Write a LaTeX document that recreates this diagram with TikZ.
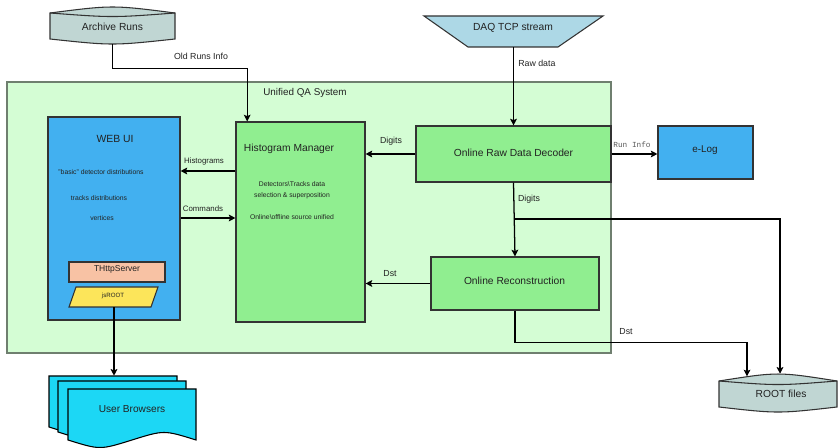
\documentclass[tikz,border=0pt]{standalone}
\usepackage{fontspec}
\setmainfont{Liberation Sans}
\setmonofont{Liberation Mono}
\usetikzlibrary{arrows.meta,fit,calc}
\definecolor{qafill}{HTML}{D4FDD4}
\definecolor{qaedge}{HTML}{6F7F6F}
\definecolor{gbox}{HTML}{90EE90}
\definecolor{bbox}{HTML}{42B0F0}
\definecolor{peach}{HTML}{F8C2A4}
\definecolor{yel}{HTML}{FCE55A}
\definecolor{cyanb}{HTML}{1CD7F5}
\definecolor{daqc}{HTML}{ADD8E6}
\definecolor{store}{HTML}{C0D6D3}
\definecolor{edge}{HTML}{333333}
\definecolor{txt}{HTML}{222222}
\begin{document}
\begin{tikzpicture}[x=0.75pt,y=-0.75pt,
  box/.style={draw=edge,line width=0.8pt,inner sep=0pt},
  ghost/.style={inner sep=0pt},
  conn/.style={draw=black,line width=0.95pt,-{Stealth[length=5pt,width=5pt,inset=1pt]}},
  line/.style={draw=black,line width=0.95pt},
  big/.style={font=\fontsize{7.7}{9}\selectfont,text=txt,inner sep=0pt},
  lab/.style={font=\fontsize{6.6}{8}\selectfont,text=txt,inner sep=0pt},
  labs/.style={font=\fontsize{5.9}{7}\selectfont,text=txt,inner sep=0pt},
  tiny/.style={font=\fontsize{5.1}{6.5}\selectfont,text=txt,inner sep=0pt},
  mono/.style={font=\ttfamily\fontsize{5.8}{7}\selectfont,text=black!65,inner sep=0pt},
]
\useasboundingbox (0,0) rectangle (838,448);

% Unified QA System frame
\node[fit={(7,82)(611,353)},box,draw=qaedge,fill=qafill,line width=0.9pt] (qa) {};
\node[big,font=\fontsize{7.4}{9}\selectfont] (qat) at (305,93) {Unified QA System};

% Archive Runs storage
\filldraw[fill=store,draw=edge,line width=0.8pt]
  (50,13) .. controls (112.5,5) .. (175,13) -- (175,39)
  .. controls (112.5,45.7) .. (50,39) -- cycle;
\draw[edge,line width=0.8pt] (50,13) .. controls (112.5,17.7) .. (175,13);
\node[fit={(50,7)(175,44)},ghost] (arch) {};
\node[big] (archt) at (112.5,27) {Archive Runs};

% DAQ TCP stream
\filldraw[fill=daqc,draw=edge,line width=0.8pt]
  (424,16) -- (603,16) -- (558,47) -- (468,47) -- cycle;
\node[fit={(424,16)(603,47)},ghost] (daq) {};
\node[big] (daqt) at (513,28) {DAQ TCP stream};

% WEB UI
\node[fit={(48,117)(180,320)},box,fill=bbox] (web) {};
\node[big,font=\fontsize{7.8}{9}\selectfont] (webt) at (115,139) {WEB UI};
\node[tiny] (w1) at (101,172) {"basic" detector distributions};
\node[tiny] (w2) at (99,198) {tracks distributions};
\node[tiny] (w3) at (102,218) {vertices};
\node[fit={(69,262)(165,282)},box,fill=peach] (http) {};
\node[big,font=\fontsize{6.4}{8}\selectfont] (httpt) at (117,269.5) {THttpServer};
\filldraw[fill=yel,draw=edge,line width=0.8pt]
  (76,287) -- (158,287) -- (151,307) -- (69,307) -- cycle;
\node[fit={(69,287)(158,307)},ghost] (js) {};
\node[tiny,font=\fontsize{4.6}{6}\selectfont] (jst) at (113,296) {jsROOT};

% Histogram Manager
\node[fit={(236,122)(365,322)},box,fill=gbox] (hm) {};
\node[big] (hmt) at (289,149) {Histogram Manager};
\node[tiny,align=center] (hm1) at (292,190) {Detectors\textbackslash Tracks data\\[1.6pt]selection \& superposition};
\node[tiny] (hm2) at (292,217) {Online\textbackslash offline source unified};

% Online Raw Data Decoder
\node[fit={(416,126)(611,182)},box,fill=gbox] (ordd) {};
\node[big] (orddt) at (513.5,152.5) {Online Raw Data Decoder};

% e-Log
\node[fit={(658,126)(753,179)},box,fill=bbox] (elog) {};
\node[big,font=\fontsize{7.4}{9}\selectfont] (elogt) at (705,150) {e-Log};

% Online Reconstruction
\node[fit={(431,257)(599,310)},box,fill=gbox] (orec) {};
\node[big] (orect) at (514.5,281) {Online Reconstruction};

% ROOT files storage
\filldraw[fill=store,draw=edge,line width=0.8pt]
  (719,381) .. controls (778,371.7) .. (837,381) -- (837,407)
  .. controls (778,413.7) .. (719,407) -- cycle;
\draw[edge,line width=0.8pt] (719,381) .. controls (778,385.7) .. (837,381);
\node[fit={(719,374)(837,412)},ghost] (root) {};
\node[big] (roott) at (781,394) {ROOT files};

% User Browsers (multi-document)
\filldraw[fill=cyanb,draw=black,line width=0.8pt]
  (49,376) -- (177,376) -- (177,427) .. controls (145,417) .. (113,427)
  .. controls (81,437) .. (49,427) -- cycle;
\filldraw[fill=cyanb,draw=black,line width=0.8pt]
  (58,381) -- (186,381) -- (186,432) .. controls (154,422) .. (122,432)
  .. controls (90,442) .. (58,432) -- cycle;
\filldraw[fill=cyanb,draw=black,line width=0.8pt]
  (68,389) -- (196,389) -- (196,440) .. controls (164,430) .. (132,440)
  .. controls (100,450) .. (68,440) -- cycle;
\node[fit={(49,376)(177,427)},ghost] (ub) {};
\node[big,font=\fontsize{7.6}{9}\selectfont] (ubt) at (132,409) {User Browsers};

% Connectors
\draw[conn] (arch.south) -- ++(0,24) -| ([xshift=-40pt]hm.north);
\node[lab] (l1) at (201,56) {Old Runs Info};

\draw[conn] (daq.south) -- (ordd.north);
\node[lab,anchor=west] (l2) at (518,63) {Raw data};

\draw[conn] (ordd.west) -- (hm.east |- ordd.west);
\node[lab] (l3) at (391,141) {Digits};

\draw[conn] (ordd.east) -- (elog.west |- ordd.east);
\node[mono] (l4) at (632,144.5) {Run Info};

\draw[conn] (hm.west |- 0,171) -- (web.east |- 0,171);
\node[labs] (l5) at (204,161) {Histograms};

\draw[conn] (web.east |- 0,218) -- (hm.west |- 0,218);
\node[labs] (l6) at (203,209) {Commands};

\draw[conn] (ordd.south) -- (orec.north);
\node[lab] (l7) at (529,199) {Digits};
\coordinate (br) at (ordd.south |- 0,219);
\draw[conn] (br) -| (root.north -| 780,0);

\draw[conn] (orec.west) -- (hm.east |- orec.west);
\node[lab] (l8) at (390,274) {Dst};

\draw[conn] (orec.south) -- ++(0,32) -| ([yshift=-2pt]root.north -| 747,0);
\node[lab] (l9) at (626,332) {Dst};

\draw[conn] (js.south -| 114,0) -- (ub.north -| 114,0);
\end{tikzpicture}
\end{document}
